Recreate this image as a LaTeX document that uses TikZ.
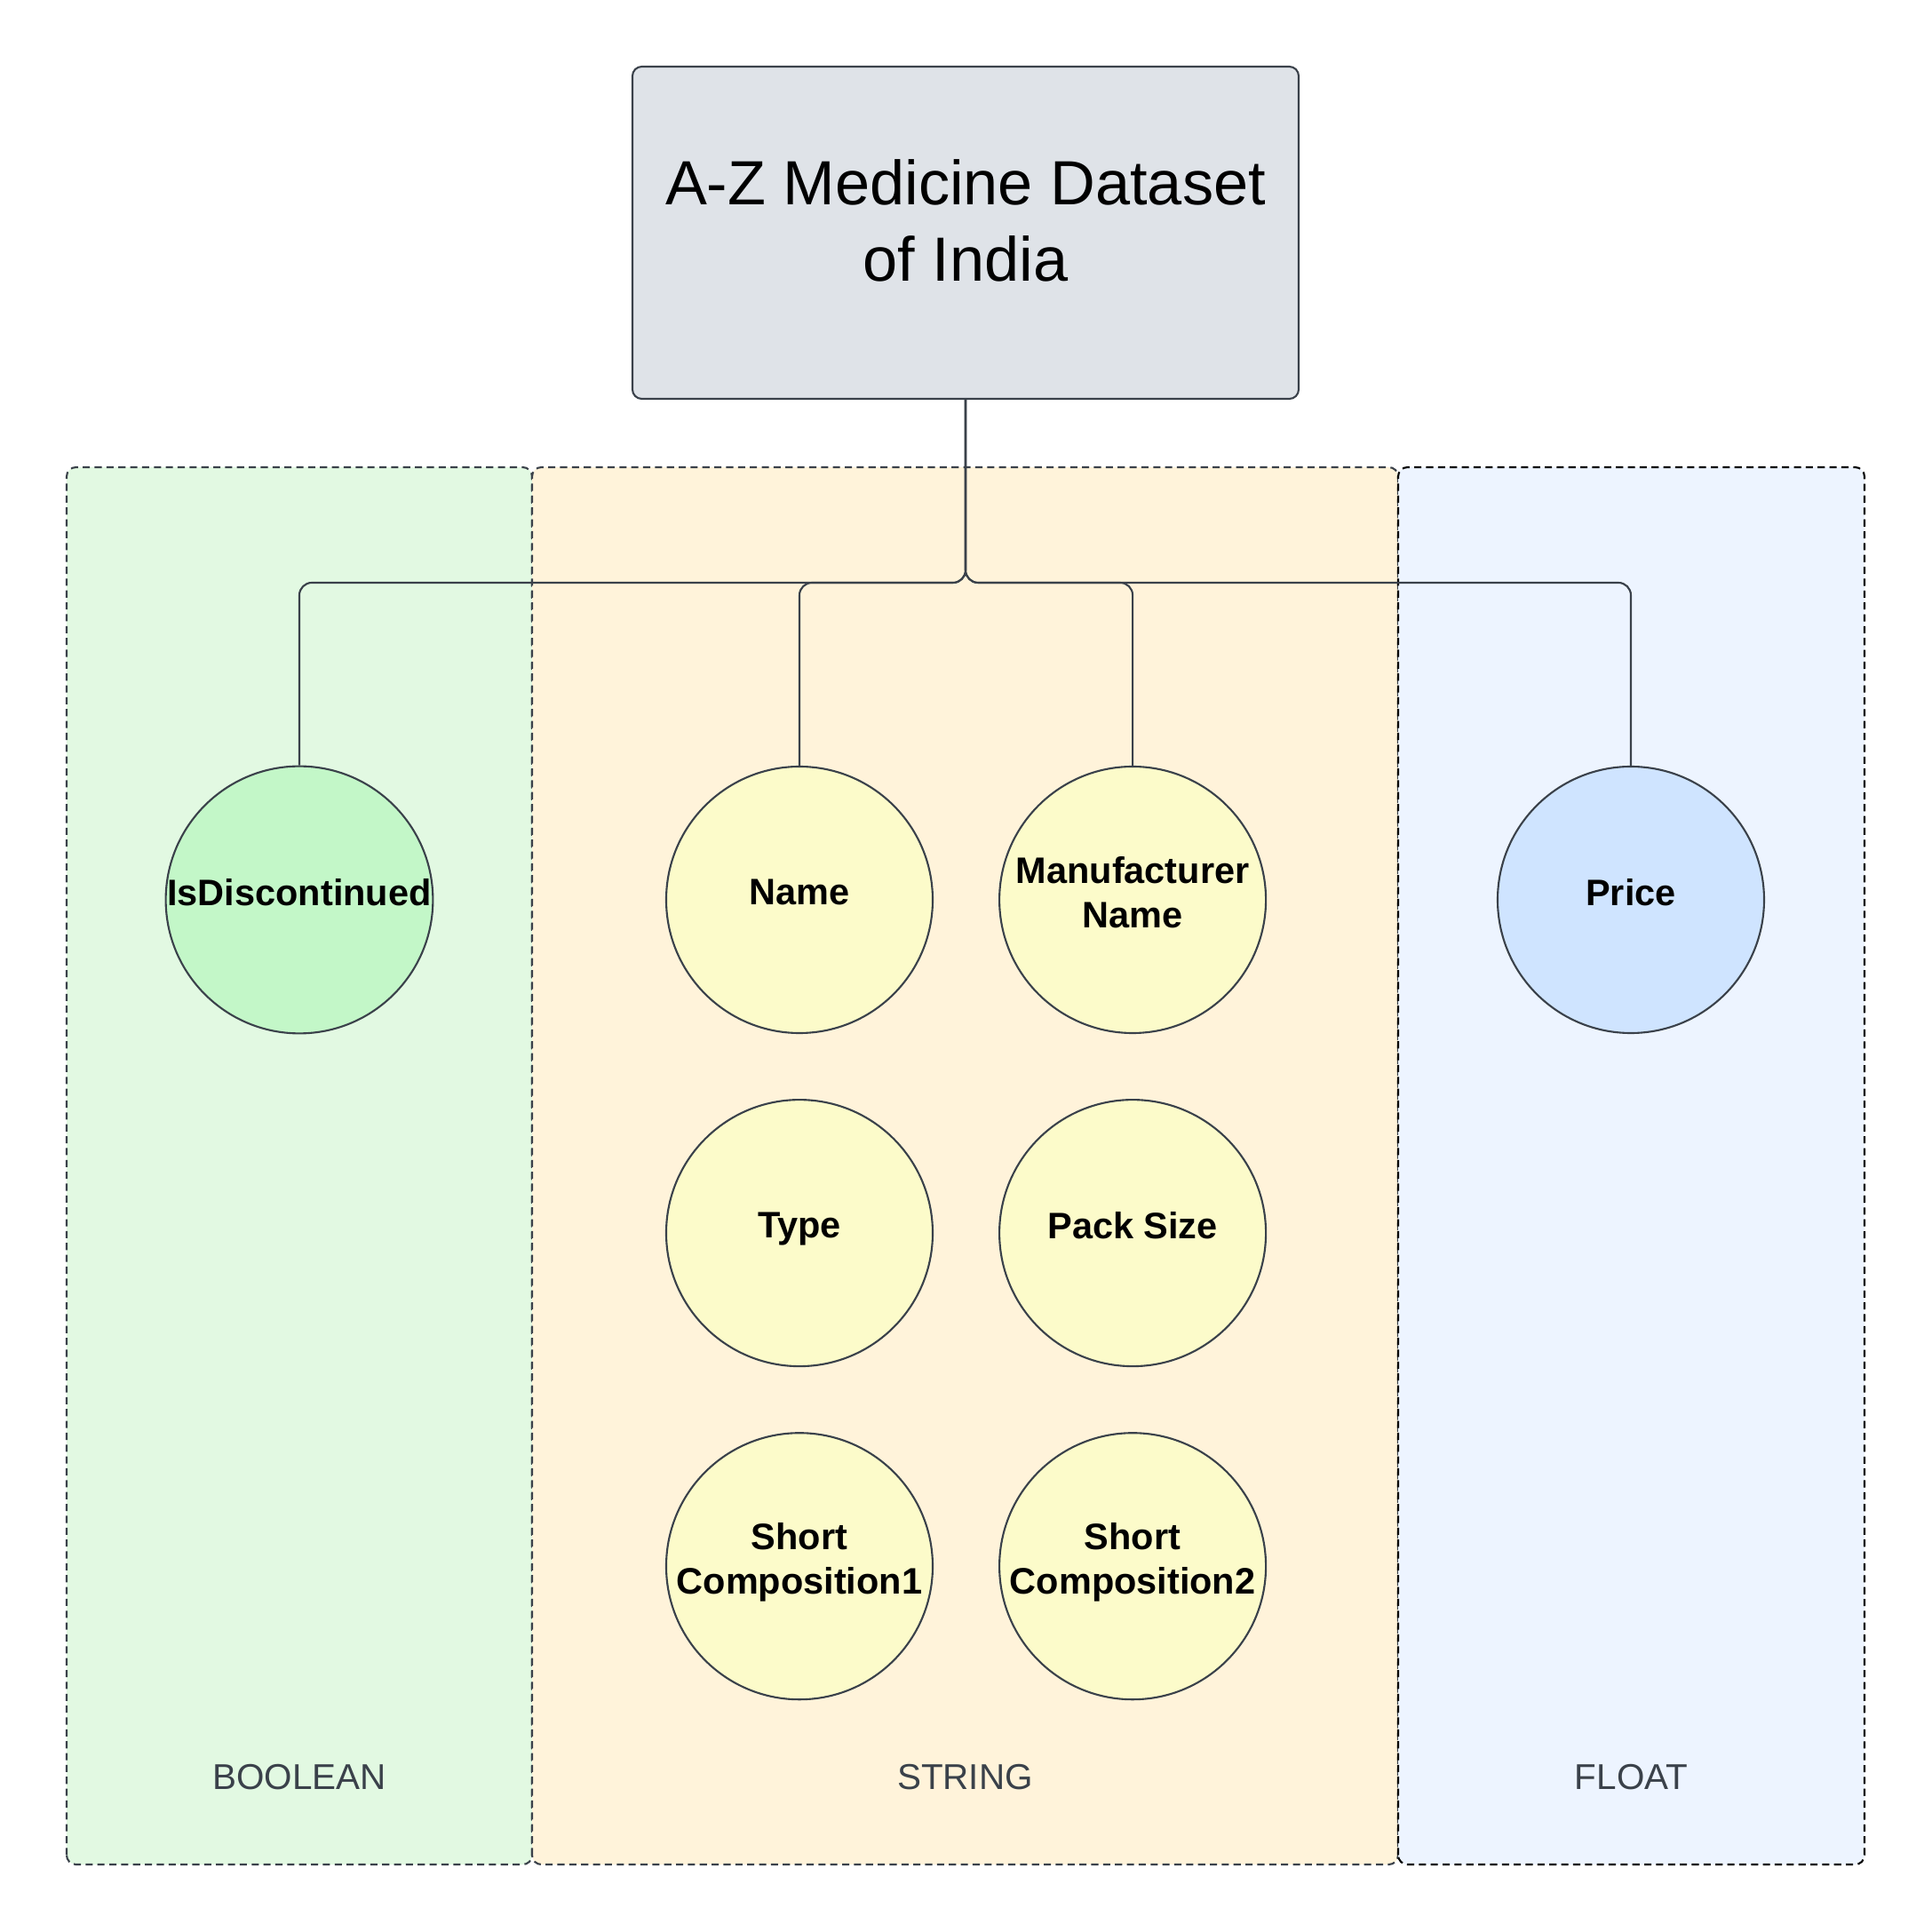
\documentclass[tikz,border=0pt]{standalone}
\usepackage{fontspec}
\setmainfont{Liberation Sans}
\usetikzlibrary{positioning}
\definecolor{edge}{HTML}{3A414A}
\definecolor{titlefill}{HTML}{DFE3E8}
\definecolor{boolfill}{HTML}{E2F9E2}
\definecolor{strfill}{HTML}{FFF3DA}
\definecolor{fltfill}{HTML}{EDF4FF}
\definecolor{boolnode}{HTML}{C3F7C8}
\definecolor{strnode}{HTML}{FCFBCA}
\definecolor{fltnode}{HTML}{CFE4FF}
\tikzset{
  lane/.style={draw=edge, dash pattern=on 2.3pt off 1.5pt, rounded corners=3pt, line width=0.6pt},
  lanetitle/.style={text=edge, font=\fontsize{11.5}{14}\selectfont},
  attr/.style={circle, draw=edge, line width=0.6pt, minimum size=3cm, inner sep=0pt,
    align=center, text depth=0.17cm, font=\fontsize{11.8}{14.2}\selectfont\bfseries},
  link/.style={draw=edge, line width=0.6pt, rounded corners=4pt}
}
\begin{document}
\begin{tikzpicture}
	\useasboundingbox (0,0) rectangle (21.75,21.75);
	\draw [lane, fill=boolfill] (0.75,0.76) rectangle (5.99,16.49);
	\draw [lane, fill=strfill] (5.99,0.76) rectangle (15.74,16.49);
	\draw [lane, fill=fltfill, draw=black] (15.74,0.76) rectangle (20.99,16.49);
	\node [lanetitle] (booltitle) at (3.37,1.74) {BOOLEAN};
	\node [lanetitle] (strtitle) at (10.865,1.74) {STRING};
	\node [lanetitle] (flttitle) at (18.365,1.74) {FLOAT};
	\node [draw=edge, fill=titlefill, line width=0.6pt, rounded corners=3pt,
		minimum width=7.5cm, minimum height=3.74cm, align=center, text depth=0.28cm,
		font=\fontsize{20}{24.4}\selectfont] (title) at (10.87,19.13) {A-Z Medicine Dataset\\of India};
	\coordinate (bus) at (10.87,15.19);
	\node [attr, fill=boolnode] (isdisc) at (3.37,11.62) {IsDiscontinued};
	\node [attr, fill=strnode] (name) at (9.0,11.62) {Name};
	\node [attr, fill=strnode, right=0.73cm of name] (manuf) {Manufacturer\\Name};
	\node [attr, fill=strnode, below=0.73cm of name] (type) {Type};
	\node [attr, fill=strnode, below=0.73cm of manuf] (pack) {Pack Size};
	\node [attr, fill=strnode, below=0.73cm of type] (comp1) {Short\\Composition1};
	\node [attr, fill=strnode, below=0.73cm of pack] (comp2) {Short\\Composition2};
	\node [attr, fill=fltnode] (price) at (18.36,11.62) {Price};
	\foreach \n in {isdisc,name,manuf,price}
		\draw [link] (title.south) -- (title.south |- bus) -| (\n.north);
\end{tikzpicture}
\end{document}
